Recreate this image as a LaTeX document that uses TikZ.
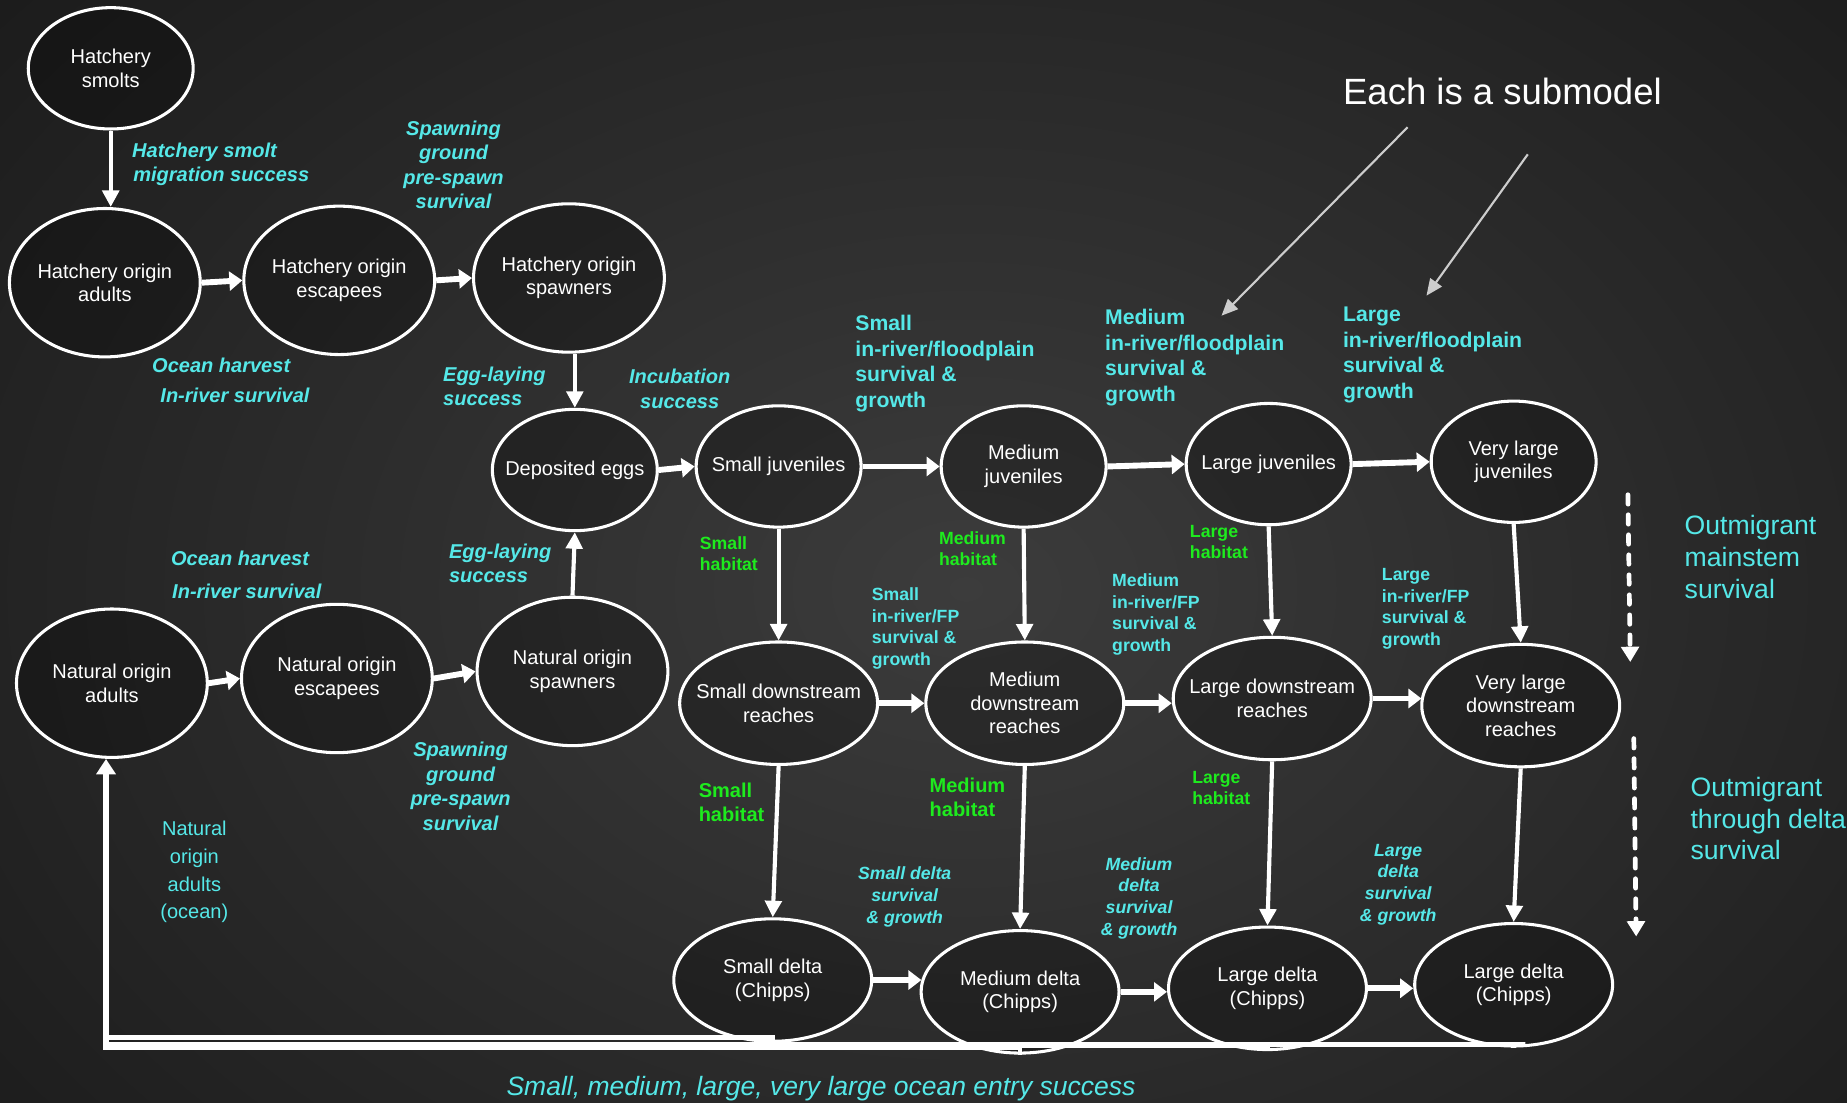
\documentclass[tikz,border=0pt]{standalone}
\usepackage{fontspec}
\setmainfont{Liberation Sans}
\usetikzlibrary{shapes.geometric,arrows.meta}

\definecolor{labc}{RGB}{85,232,232}
\definecolor{habc}{RGB}{30,235,30}
\definecolor{pointerc}{RGB}{205,205,205}
\pgfdeclareradialshading{glow}{\pgfpoint{0bp}{0bp}}{rgb(0bp)=(0.235,0.235,0.235); rgb(50bp)=(0.035,0.035,0.035)}

\tikzset{
  stage/.style={ellipse, draw=white, line width=2.6pt, fill=black, fill opacity=0.25,
    inner sep=0pt,
    label={[text=white, text opacity=1, fill opacity=1, align=center, inner sep=0pt,
      font=\fontsize{17}{20}\selectfont]center:#1}},
  smallst/.style={stage={#1}, minimum width=140pt, minimum height=103pt},
  bigst/.style={stage={#1}, minimum width=162pt, minimum height=126pt},
  widest/.style={stage={#1}, minimum width=168pt, minimum height=104pt},
  harrow/.style={draw=white, line width=5pt, -{Triangle[length=11pt,width=16pt]}},
  varrow/.style={draw=white, line width=3.5pt, -{Triangle[length=14pt,width=14pt]}},
  retline/.style={draw=white, line width=4pt},
  retarrow/.style={draw=white, line width=5pt, line cap=rect, -{Triangle[length=13pt,width=16pt]}},
  pointer/.style={draw=pointerc, line width=1.8pt, -{Triangle[length=14pt,width=12pt]}},
  dasharrow/.style={draw=white, line width=4pt, line cap=round, dash pattern=on 8pt off 9pt,
    -{Triangle[length=13pt,width=15pt]}},
  lab/.style={text=labc, inner sep=0pt, font=\fontsize{17}{20.7}\selectfont\bfseries\itshape},
  labsm/.style={text=labc, inner sep=0pt, font=\fontsize{15}{18.5}\selectfont\bfseries\itshape},
  upright/.style={text=labc, inner sep=0pt, font=\fontsize{18}{21.7}\selectfont\bfseries},
  uprightsm/.style={text=labc, inner sep=0pt, font=\fontsize{15}{18.3}\selectfont\bfseries},
  habsm/.style={text=habc, inner sep=0pt, font=\fontsize{15}{18}\selectfont\bfseries},
  habbig/.style={text=habc, inner sep=0pt, font=\fontsize{17}{20}\selectfont\bfseries},
  plain/.style={text=labc, inner sep=0pt, font=\fontsize{22.6}{27}\selectfont},
}

\begin{document}
\begin{tikzpicture}[x=1pt,y=-1pt]
\useasboundingbox (0,0) rectangle (1568,936);

% dark backdrop with a soft glow right of centre
\begin{scope}
  \clip (0,0) rectangle (1568,936);
  \shade[shading=glow] (-30,-120) rectangle (1670,1120);
\end{scope}

% ---------- stages ----------
\node[smallst={Hatchery\\smolts}]               (hs)  at (94,58)    {};
\node[bigst={Hatchery origin\\adults}]          (ha)  at (89,240)   {};
\node[bigst={Hatchery origin\\escapees}]        (he)  at (288,238)  {};
\node[bigst={Hatchery origin\\spawners}]        (hsp) at (483,236)  {};
\node[smallst={Deposited eggs}]                 (de)  at (488,399)  {};
\node[smallst={Small juveniles}]                (sj)  at (661,396)  {};
\node[smallst={Medium\\juveniles}]              (mj)  at (869,396)  {};
\node[smallst={Large juveniles}]                (lj)  at (1077,394) {};
\node[smallst={Very large\\juveniles}]          (vj)  at (1285,392) {};

\node[bigst={Natural origin\\adults}]           (na)  at (95,580)   {};
\node[bigst={Natural origin\\escapees}]         (ne)  at (286,576)  {};
\node[bigst={Natural origin\\spawners}]         (ns)  at (486,570)  {};

\node[widest={Small downstream\\reaches}]       (sds) at (661,597)  {};
\node[widest={Medium\\downstream\\reaches}]     (mds) at (870,597)  {};
\node[widest={Large downstream\\reaches}]       (lds) at (1080,593) {};
\node[widest={Very large\\downstream\\reaches}] (vds) at (1291,599) {};

\node[widest={Small delta\\(Chipps)}]           (sdl) at (656,832)  {};
\node[widest={Medium delta\\(Chipps)}]          (mdl) at (866,842)  {};
\node[widest={Large delta\\(Chipps)}]           (ldl) at (1076,839) {};
\node[widest={Large delta\\(Chipps)}]           (vdl) at (1285,836) {};

% ---------- transitions ----------
\draw[varrow] (hs.south) -- (hs.south |- ha.north);
\draw[harrow] (ha.east) -- (he.west);
\draw[harrow] (he.east) -- (hsp.west);
\draw[varrow] (de.north |- hsp.south) -- (de.north);
\draw[harrow] (de.east) -- (sj.west);
\draw[harrow] (sj.east) -- (mj.west);
\draw[harrow] (mj.east) -- (lj.west);
\draw[harrow] (lj.east) -- (vj.west);

\draw[harrow] (na.east) -- (ne.west);
\draw[harrow] (ne.east) -- (ns.west);
\draw[varrow] (ns.north) -- (de.south);

\draw[varrow] (sj.south) -- (sds.north);
\draw[varrow] (mj.south) -- (mds.north);
\draw[varrow] (lj.south) -- (lds.north);
\draw[varrow] (vj.south) -- (vds.north);

\draw[harrow] (sds.east) -- (mds.west);
\draw[harrow] (mds.east) -- (mds.east -| lds.west);
\draw[harrow] (lds.east) -- ([xshift=1pt]lds.east -| vds.west);

\draw[varrow] (sds.south) -- (sdl.north);
\draw[varrow] (mds.south) -- (mdl.north);
\draw[varrow] (lds.south) -- (ldl.north);
\draw[varrow] (vds.south) -- (vdl.north);

\draw[harrow] (sdl.east) -- ([xshift=1.5pt]sdl.east -| mdl.west);
\draw[harrow] (mdl.east) -- (mdl.east -| ldl.west);
\draw[harrow] (ldl.east) -- (ldl.east -| vdl.west);

% ocean return to natural origin adults
\coordinate (r1) at (90,881);
\coordinate (r2) at (90,887);
\coordinate (r3) at (90,888);
\coordinate (r4) at (90,889);
\coordinate (vend) at (1295,887);
\draw[retline] (sdl.south) |- (r1);
\draw[retline] (vdl.south) -- (vdl.south |- vend) -- (vend) -- (r2);
\draw[retline] (ldl.south) |- (r3);
\draw[retline] (mdl.south) |- (r4);
\draw[retarrow] (r4) -- (na.south -| r4);

% submodel pointers
\coordinate (p1s) at (1195,108);
\coordinate (p1e) at (1037,268);
\coordinate (p2s) at (1297,131);
\coordinate (p2e) at (1211,251);
\draw[pointer] (p1s) -- (p1e);
\draw[pointer] (p2s) -- (p2e);

% outmigration markers
\coordinate (d1s) at (1382,420);
\coordinate (d1e) at (1384,562);
\coordinate (d2s) at (1387,627);
\coordinate (d2e) at (1389,795);
\draw[dasharrow] (d1s) -- (d1e);
\draw[dasharrow] (d2s) -- (d2e);

% ---------- labels ----------
\node[lab, anchor=west, align=left] (l1) at (112,139.5) {Hatchery smolt\\\hspace{1pt}migration success};
\node[lab, align=center] (l2) at (385,140) {Spawning\\ground\\pre-spawn\\survival};
\node[lab, anchor=west] (l3) at (129,310) {Ocean harvest};
\node[lab, anchor=west] (l4) at (136,336) {In-river survival};
\node[lab, anchor=west, align=left] (l5) at (376,328) {Egg-laying\\success};
\node[lab, align=center] (l6) at (577,330) {Incubation\\success};

\node[upright, anchor=west, align=left] (l7) at (726,308.5) {Small\\in-river/floodplain\\survival \&\\growth};
\node[upright, anchor=west, align=left] (l8) at (938,303.5) {Medium\\in-river/floodplain\\survival \&\\growth};
\node[upright, anchor=west, align=left] (l9) at (1140,301.5) {Large\\in-river/floodplain\\survival \&\\growth};

\node[text=white, inner sep=0pt, anchor=west, font=\fontsize{31}{36}\selectfont] (l10) at (1140,78) {Each is a submodel};

\node[habsm, anchor=west, align=left] (g1) at (594,470) {Small\\habitat};
\node[habsm, anchor=west, align=left] (g2) at (797,466) {Medium\\habitat};
\node[habsm, anchor=west, align=left] (g3) at (1010,460) {Large\\habitat};

\node[uprightsm, anchor=west, align=left] (f1) at (740,533.5) {Small\\in-river/FP\\survival \&\\growth};
\node[uprightsm, anchor=west, align=left] (f2) at (944,521.5) {Medium\\in-river/FP\\survival \&\\growth};
\node[uprightsm, anchor=west, align=left] (f3) at (1173,517) {Large\\in-river/FP\\survival \&\\growth};

\node[lab, anchor=west] (n1) at (145,474) {Ocean harvest};
\node[lab, anchor=west] (n2) at (146,502) {In-river survival};
\node[lab, anchor=west, align=left] (n3) at (381,478.5) {Egg-laying\\success};
\node[lab, align=center] (n4) at (391,667.5) {Spawning\\ground\\pre-spawn\\survival};
\node[text=labc, inner sep=0pt, align=center, font=\fontsize{17}{23.5}\selectfont] (n5) at (165,740.5) {Natural\\origin\\adults\\(ocean)};

\node[habbig, anchor=west, align=left] (g4) at (593,681) {Small\\habitat};
\node[habbig, anchor=west, align=left] (g5) at (789,677) {Medium\\habitat};
\node[habsm, anchor=west, align=left] (g6) at (1012,669) {Large\\habitat};

\node[labsm, align=center] (s1) at (768,761.5) {Small delta\\survival\\\& growth};
\node[labsm, align=center] (s2) at (967,762.5) {Medium\\delta\\survival\\\& growth};
\node[labsm, align=center] (s3) at (1187,751) {Large\\delta\\survival\\\& growth};

\node[plain, anchor=west, align=left] (o1) at (1430,473) {Outmigrant\\mainstem\\survival};
\node[plain, anchor=west, align=left] (o2) at (1435,695) {Outmigrant\\through delta\\survival};

\node[text=labc, inner sep=0pt, font=\fontsize{22.5}{26}\selectfont\itshape] (b1) at (697,924) {Small, medium, large, very large ocean entry success};

\end{tikzpicture}
\end{document}
